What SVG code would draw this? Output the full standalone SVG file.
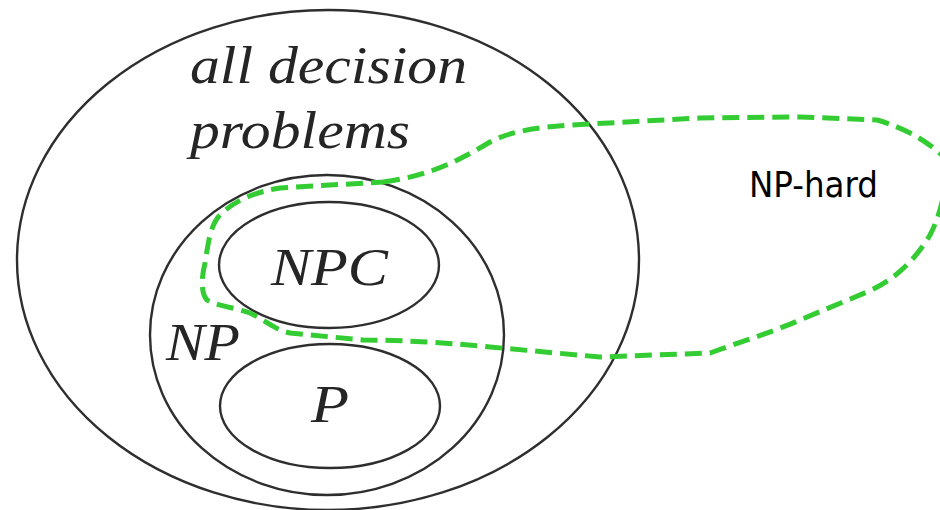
<svg xmlns="http://www.w3.org/2000/svg" width="940" height="510" viewBox="0 0 940 510">
  <style>
    .set { fill: none; stroke: #2e2e2e; stroke-width: 2.4; }
    .lbl { font-family: "Liberation Serif", "Times New Roman", serif; font-style: italic; fill: #252525; }
    .hard { fill: none; stroke: #33cc33; stroke-width: 5; stroke-dasharray: 17 8; stroke-linejoin: round; }
    .sans { font-family: "DejaVu Sans Condensed", "DejaVu Sans", "Liberation Sans", sans-serif; fill: #000; }
  </style>
  <rect width="940" height="510" fill="#ffffff"/>

  <g id="all-decision-problems">
    <ellipse class="set" cx="328" cy="260" rx="311" ry="250"/>
    <text class="lbl" x="190" y="83" font-size="52" textLength="277" lengthAdjust="spacingAndGlyphs">all decision</text>
    <text class="lbl" x="190" y="148" font-size="52" textLength="220" lengthAdjust="spacingAndGlyphs">problems</text>
  </g>

  <g id="np">
    <ellipse class="set" cx="327" cy="335" rx="177" ry="160"/>
    <text class="lbl" x="166" y="360" font-size="52" textLength="74" lengthAdjust="spacingAndGlyphs">NP</text>
  </g>

  <g id="npc">
    <ellipse class="set" cx="329" cy="265" rx="110" ry="63"/>
    <text class="lbl" x="271" y="285" font-size="52" textLength="117" lengthAdjust="spacingAndGlyphs">NPC</text>
  </g>

  <g id="p">
    <ellipse class="set" cx="330" cy="406" rx="110" ry="62"/>
    <text class="lbl" x="311" y="422" font-size="52" textLength="38" lengthAdjust="spacingAndGlyphs">P</text>
  </g>

  <g id="np-hard">
    <path class="hard" d="M 383,182 C 430,176 460,160 490,142 C 512,130 545,126 590,124 L 700,118 L 800,117 L 877,120 C 905,128 925,140 942,155 C 950,178 942,212 930,235 C 915,260 895,280 867,292 L 800,320 C 770,333 740,342 710,353 L 600,357 L 490,347 C 440,342 395,340 363,340 L 290,333 C 275,330 265,320 250,313 C 235,308 215,305 207,300 C 200,292 202,275 205,263 C 208,245 210,225 220,215 C 235,200 255,192 280,188 Z"/>
    <text class="sans" x="749" y="197" font-size="35" textLength="129" lengthAdjust="spacingAndGlyphs">NP-hard</text>
  </g>
</svg>
